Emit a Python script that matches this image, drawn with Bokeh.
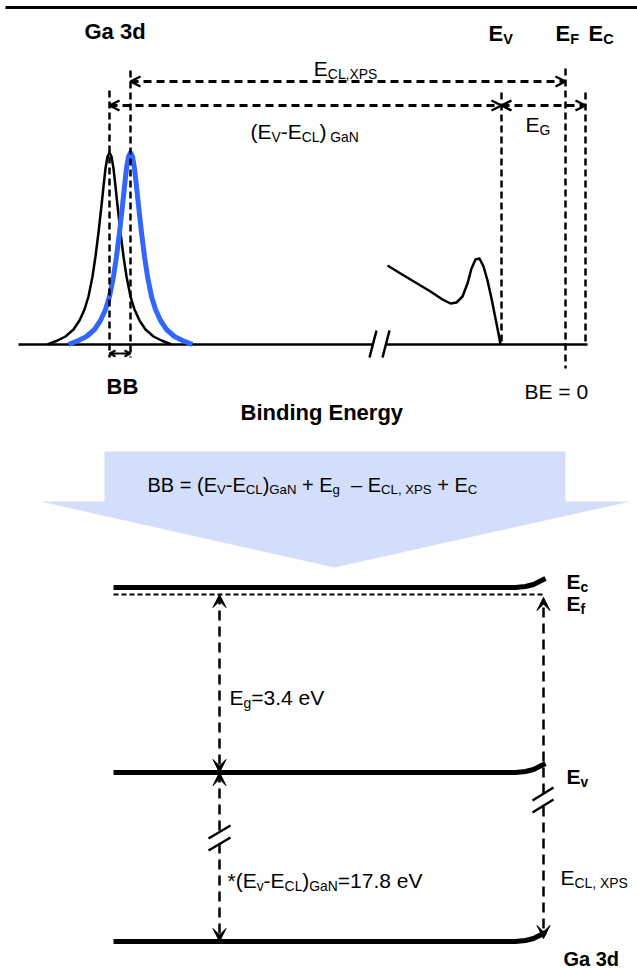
from bokeh.plotting import figure
from bokeh.models import Range1d, Arrow, OpenHead, VeeHead
from bokeh.embed import file_html
from bokeh.resources import INLINE
from bokeh.core.properties import value

W, H = 637, 969
FONT = "Liberation Sans"

# ---------------- data (schematic coordinates) ----------------
# top panel: XPS spectrum schematic
base_y = 344
base_x = [18, 373, 386, 587]            # baseline with a break between 373 and 386
ref_peak_x = 109                          # Ga 3d peak (reference)
xps_peak_x = 130                          # Ga 3d peak (measured, shifted)
peak_dx = [-62, -52, -44, -36, -30, -25, -21, -17, -14, -11, -8, -6, -4, -2, 0,
           2, 4, 6, 8, 11, 14, 17, 21, 25, 30, 36, 44, 52, 62]
peak_h = [0, 4, 8, 15, 24, 35, 48, 68, 88, 112, 139, 158, 176, 188, 192,
          188, 176, 158, 139, 112, 88, 68, 48, 35, 24, 15, 8, 4, 0]
vb_x = [387, 400, 415, 430, 442, 450, 456, 462, 467, 471, 475, 479, 483, 487, 491, 495, 498, 500]
vb_y = [265, 273, 282, 291, 299, 303, 302, 296, 283, 268, 259, 258, 266, 280, 298, 318, 333, 344]
ev_x, ef_x, ec_x = 501, 565, 585
row1_y, row2_y = 81, 105
vlines_x = [109, 130, 501, 565, 585]
vlines_top = [90, 70, 92, 68, 92]
vlines_bot = [357, 357, 344, 368, 344]

# middle arrow shape
shape_x = [104, 565, 565, 630, 334, 40, 104]
shape_y = [451, 451, 501, 501, 567, 501, 501]

# bottom panel: band diagram
lvl_x0, lvl_x1 = 113, 515
ec_y, ef_y, ev_y, cl_y = 587, 594, 772, 941
bend_dx = [0, 10, 18, 24, 30]
bend_dy = [0, -1, -3, -6, -9]
left_arrow_x, right_arrow_x = 219, 543

# ---------------- figure ----------------
p = figure(width=W, height=H, x_range=Range1d(0, W), y_range=Range1d(H, 0),
           output_backend="svg", toolbar_location=None,
           x_axis_location=None, y_axis_location=None, min_border=0)
p.grid.visible = False
p.outline_line_color = None
p.background_fill_color = "white"
p.border_fill_color = "white"

# ------------- text helpers -------------
REG = {' ': .278, '(': .333, ')': .333, '*': .389, '+': .584, ',': .278, '-': .333, '.': .278,
       '=': .584, 'B': .667, 'C': .722, 'E': .667, 'F': .611, 'G': .778, 'L': .556, 'N': .722,
       'P': .667, 'S': .667, 'V': .667, 'X': .667, 'a': .556, 'c': .5, 'e': .556, 'f': .278,
       'g': .556, 'v': .5, '–': .556}
BOLD = {' ': .278, 'B': .722, 'E': .667, 'G': .778, 'C': .722, 'F': .611, 'V': .667,
        'a': .556, 'd': .611, 'c': .556, 'f': .333, 'v': .556, 'i': .278, 'n': .611,
        'g': .611, 'r': .389, 'y': .556}


def tw(s, size, bold):
    tab = BOLD if bold else REG
    return sum(tab.get(ch, .556) for ch in s) * size


def rich(x, y, parts, size, bold=False, align="left", sub=0.66):
    items = []
    for txt, kind in parts:
        fs = size * sub if kind == "s" else size
        items.append((txt, fs, tw(txt, fs, bold), y + 0.25 * size if kind == "s" else y))
    total = sum(it[2] for it in items)
    if align == "center":
        x -= total / 2
    cx = x
    for txt, fs, w, yy in items:
        lead = len(txt) - len(txt.lstrip(" "))
        core = txt.strip(" ")
        if core:
            p.text(x=[cx + tw(" " * lead, fs, bold)], y=[yy], text=[core], text_font=value(FONT),
                   text_font_size=f"{fs:.1f}px", text_font_style="bold" if bold else "normal",
                   text_color="black", text_baseline="alphabetic", text_align="left")
        cx += w


# ---------------- top panel ----------------
p.line([5, W], [7, 7], line_color="black", line_width=3)

p.line(base_x[:2], [base_y] * 2, line_color="black", line_width=2.5)
p.line(base_x[2:], [base_y] * 2, line_color="black", line_width=2.5)
p.segment(x0=[369, 382], y0=[357, 357], x1=[376, 389], y1=[330, 330], line_color="black", line_width=2.5)

p.line([ref_peak_x + d for d in peak_dx], [base_y - h for h in peak_h], line_color="black",
       line_width=2.5, line_join="round")
p.line([xps_peak_x + d for d in peak_dx], [base_y - h for h in peak_h], line_color="#3366FF",
       line_width=5, line_join="round")
p.line(vb_x, vb_y, line_color="black", line_width=2.5, line_join="round")

for x, t, b in zip(vlines_x, vlines_top, vlines_bot):
    p.line([x, x], [t, b], line_color="black", line_width=2.5, line_dash="7 4")


def oh(sz=10):
    return OpenHead(size=sz, line_width=2.5, line_color="black")


p.add_layout(Arrow(x_start=xps_peak_x, y_start=row1_y, x_end=ef_x, y_end=row1_y,
                   start=oh(), end=oh(), line_width=3, line_dash="8 5"))
p.add_layout(Arrow(x_start=ref_peak_x, y_start=row2_y, x_end=ev_x, y_end=row2_y,
                   start=oh(), end=oh(), line_width=3, line_dash="8 5"))
p.add_layout(Arrow(x_start=ev_x, y_start=row2_y, x_end=ec_x, y_end=row2_y,
                   start=oh(), end=oh(), line_width=3, line_dash="8 5"))
p.add_layout(Arrow(x_start=ref_peak_x, y_start=353, x_end=xps_peak_x, y_end=353,
                   start=OpenHead(size=6, line_width=2), end=OpenHead(size=6, line_width=2),
                   line_width=2))

rich(84, 31, [("Ga 3d", "n")], 22, bold=True)
rich(488, 33, [("E", "n"), ("V", "s")], 22, bold=True)
rich(555, 33, [("E", "n"), ("F", "s")], 22, bold=True)
rich(588, 33, [("E", "n"), ("C", "s")], 22, bold=True)
rich(345, 68, [("E", "n"), ("CL,XPS", "s")], 21, align="center")
rich(250, 131, [("(E", "n"), ("V", "s"), ("-E", "n"), ("CL", "s"), (")", "n"), (" GaN", "s")], 21)
rich(525, 124, [("E", "n"), ("G", "s")], 21)
rich(106, 386, [("BB", "n")], 22, bold=True)
rich(524, 391, [("BE = 0", "n")], 21)
rich(240, 412, [("Binding Energy", "n")], 22, bold=True)

# ---------------- middle arrow with formula ----------------
p.patch(shape_x, shape_y, fill_color="#D3DEFA", line_color=None)
rich(147, 484, [("BB = (E", "n"), ("V", "s"), ("-E", "n"), ("CL", "s"), (")", "n"), ("GaN", "s"),
                (" + E", "n"), ("g", "s"), ("  – E", "n"), ("CL, XPS", "s"), (" + E", "n"), ("C", "s")], 20)

# ---------------- bottom panel ----------------
for ly in [ec_y, ev_y, cl_y]:
    xs = [lvl_x0] + [lvl_x1 + d for d in bend_dx]
    ys = [ly] + [ly + d for d in bend_dy]
    p.line(xs, ys, line_color="black", line_width=5, line_join="round")
p.line([lvl_x0, right_arrow_x + 2], [ef_y, ef_y], line_color="black", line_width=2, line_dash="5 3")


def vh():
    return VeeHead(size=13, fill_color="black", line_color="black", line_width=1)


# left: Eg arrow
p.add_layout(Arrow(x_start=left_arrow_x, y_start=ef_y, x_end=left_arrow_x, y_end=ev_y,
                   start=vh(), end=vh(), line_width=2.5, line_dash="10 6"))
# left: (Ev-ECL) arrow, broken
p.add_layout(Arrow(x_start=left_arrow_x, y_start=830, x_end=left_arrow_x, y_end=ev_y,
                   end=vh(), line_width=2.5, line_dash="10 6"))
p.add_layout(Arrow(x_start=left_arrow_x, y_start=843, x_end=left_arrow_x, y_end=cl_y,
                   end=vh(), line_width=2.5, line_dash="10 6"))
p.segment(x0=[208, 208], y0=[838, 850], x1=[230, 230], y1=[825, 837], line_color="black", line_width=2.5)
# right: E_CL,XPS arrow, broken
p.add_layout(Arrow(x_start=right_arrow_x, y_start=793, x_end=right_arrow_x, y_end=ef_y + 3,
                   end=vh(), line_width=2.5, line_dash="10 6"))
p.add_layout(Arrow(x_start=right_arrow_x, y_start=806, x_end=right_arrow_x, y_end=cl_y - 3,
                   end=vh(), line_width=2.5, line_dash="10 6"))
p.segment(x0=[532, 532], y0=[800, 812], x1=[553, 553], y1=[787, 799], line_color="black", line_width=2.5)

rich(566, 581, [("E", "n"), ("c", "s")], 21, bold=True)
rich(566, 603, [("E", "n"), ("f", "s")], 21, bold=True)
rich(566, 776, [("E", "n"), ("v", "s")], 21, bold=True)
rich(563, 958, [("Ga 3d", "n")], 20, bold=True)
rich(229, 697, [("E", "n"), ("g", "s"), ("=3.4 eV", "n")], 21)
rich(227, 880, [("*(E", "n"), ("v", "s"), ("-E", "n"), ("CL", "s"), (")", "n"), ("GaN", "s"),
                ("=17.8 eV", "n")], 21)
rich(560, 877, [("E", "n"), ("CL, XPS", "s")], 21)

open("out.html", "w").write(file_html(p, INLINE))
